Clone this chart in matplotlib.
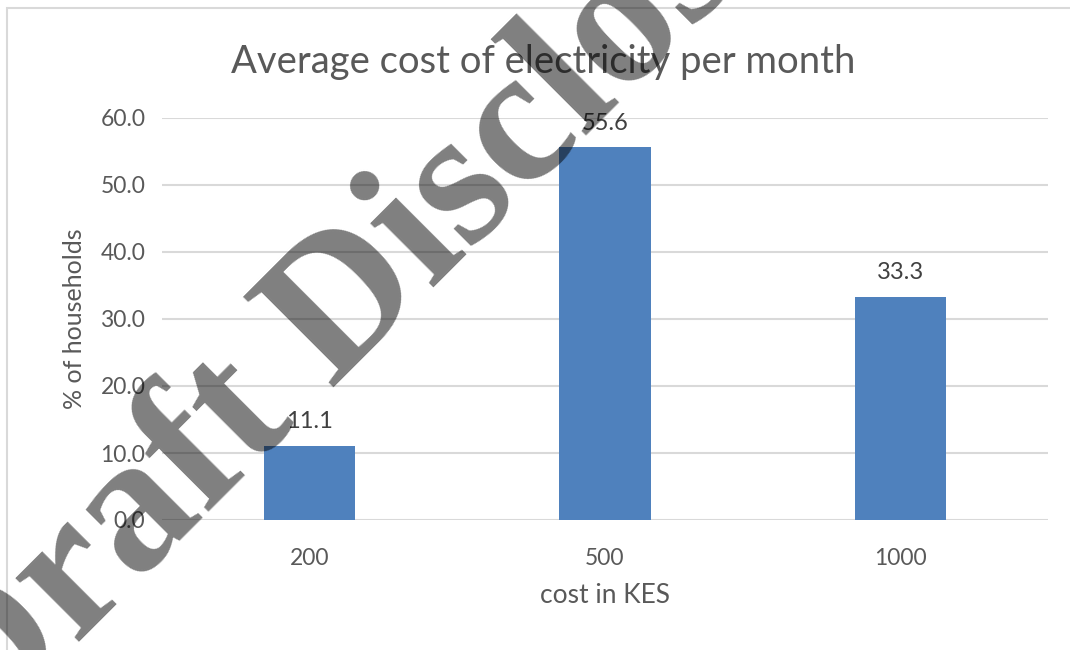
import matplotlib
matplotlib.use("Agg")
import matplotlib.pyplot as plt
from matplotlib.patches import Rectangle

# donnees
categories = ["200", "500", "1000"]
valeurs = [11.1, 55.6, 33.3]
yticks = [0, 10, 20, 30, 40, 50, 60]

BLEU, GRILLE, TEXTE, ETIQ = "#4f81bd", "#d9d9d9", "#595959", "#404040"

plt.rcParams.update({
    "font.family": ["Lato", "DejaVu Sans"],
    "font.size": 16,
})

fig = plt.figure(figsize=(10.7, 6.5), dpi=100)
ax = fig.add_axes([162 / 1070, 130 / 650, 886 / 1070, 402 / 650])

x = range(len(categories))
ax.bar(x, valeurs, width=0.31, color=BLEU, zorder=3)
for xi, v in zip(x, valeurs):
    ax.text(xi, v + 2.0, f"{v:.1f}", ha="center", va="bottom", color=ETIQ, fontsize=17)

ax.set_xlim(-0.5, 2.5)
ax.set_ylim(0, 60)
ax.set_yticks(yticks)
ax.set_yticklabels([f"{t:.1f}" for t in yticks])
ax.set_xticks(list(x))
ax.set_xticklabels(categories)
ax.tick_params(length=0, colors=TEXTE, labelsize=16.5)
ax.tick_params(axis="x", pad=20)
ax.tick_params(axis="y", pad=12)
for s in ax.spines.values():
    s.set_visible(False)
ax.grid(True, axis="y", color=GRILLE, lw=1.5)
ax.set_axisbelow(True)
ax.set_ylabel("% of households", color=TEXTE, fontsize=18, labelpad=10)
ax.set_xlabel("cost in KES", color=TEXTE, fontsize=19, labelpad=10)

fig.text(543 / 1070, 1 - 62 / 650, "Average cost of electricity per month",
         ha="center", va="center", color=TEXTE, fontsize=27.5)

# cadre du graphique (bords haut et gauche visibles)
fig.patches.append(Rectangle((7 / 1070, -0.1), 1.2, 1.1 - 8 / 650, transform=fig.transFigure,
                             fill=False, edgecolor=GRILLE, lw=1.5))

# filigrane semi-transparent
fig.text(-0.022, -0.146, "Draft Disclosure", rotation=45, rotation_mode="anchor",
         ha="left", va="baseline", fontsize=140, fontweight="bold",
         family="Liberation Serif", color="black", alpha=0.5, zorder=10)

fig.savefig("out.png", dpi=100)
